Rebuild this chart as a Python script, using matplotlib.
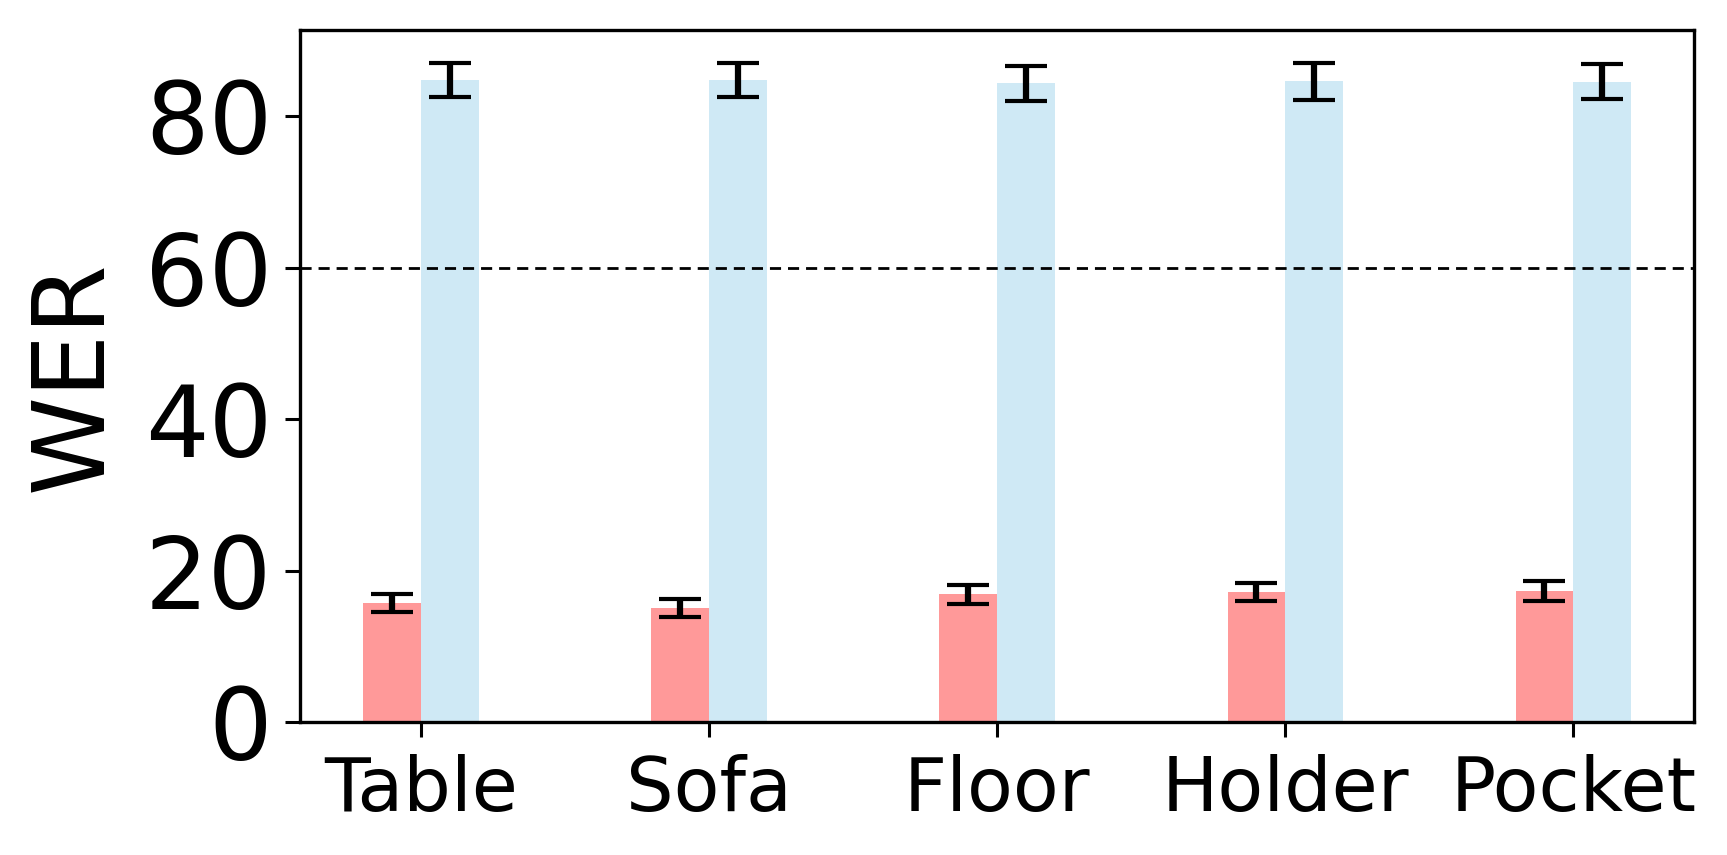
import matplotlib
matplotlib.use("Agg")
import matplotlib.pyplot as plt
import numpy as np

categories = ["Table", "Sofa", "Floor", "Holder", "Pocket"]
red_vals = [15.8, 15.1, 16.9, 17.2, 17.3]
red_err = [1.2, 1.2, 1.25, 1.15, 1.3]
blue_vals = [84.85, 84.75, 84.35, 84.65, 84.6]
blue_err = [2.25, 2.25, 2.25, 2.45, 2.35]
threshold = 60

fig = plt.figure(figsize=(17.27, 8.55), dpi=100)
ax = fig.add_axes([0.1737, 0.1552, 0.981 - 0.1737, 0.9653 - 0.1552])

x = np.arange(len(categories))
w = 0.2
err_kw = dict(elinewidth=4.5, capthick=3.0, capsize=15, ecolor="black")
ax.bar(x - w / 2, red_vals, w, yerr=red_err, color="#FF9999", error_kw=err_kw)
ax.bar(x + w / 2, blue_vals, w, yerr=blue_err, color="#CFE9F5", error_kw=err_kw)
ax.axhline(threshold, color="black", linestyle="--", linewidth=2.0, dashes=(4, 2.5))

ax.set_ylim(bottom=0)
ax.set_xticks(x)
ax.set_xticklabels(categories, fontsize=54)
ax.set_yticks([0, 20, 40, 60, 80])
ax.tick_params(axis="y", labelsize=72, length=11, width=2.2, pad=9)
ax.tick_params(axis="x", length=11, width=2.2, pad=12)
ax.set_ylabel("WER", fontsize=72, labelpad=16)
for s in ax.spines.values():
    s.set_linewidth(2.4)

fig.savefig("out.png", dpi=100)
